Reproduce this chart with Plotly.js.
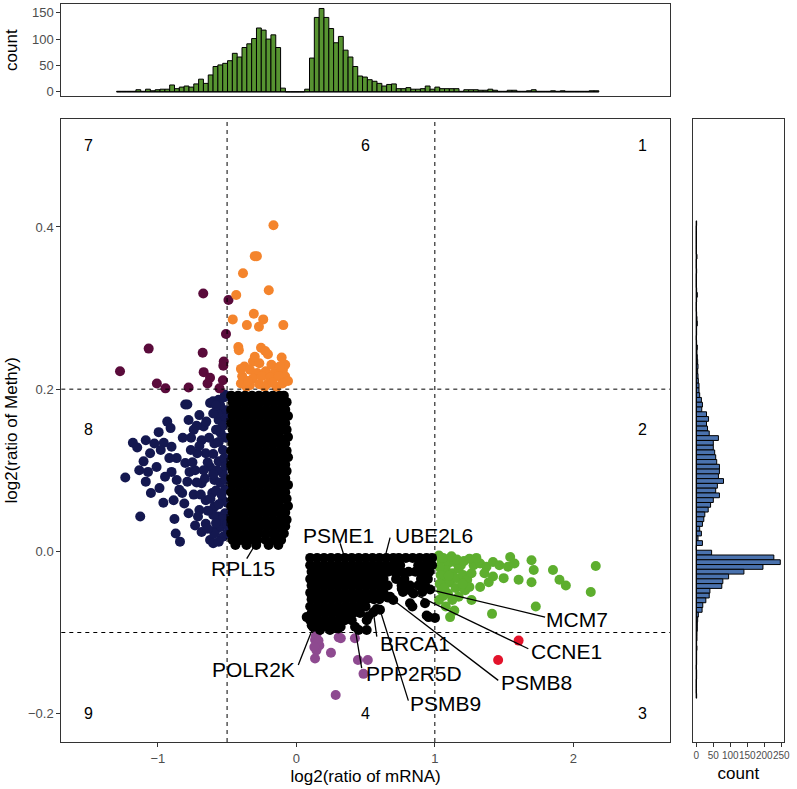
<!DOCTYPE html>
<html><head><meta charset="utf-8">
<script src="https://cdn.plot.ly/plotly-3.0.1.min.js"></script>
<style>html,body{margin:0;padding:0;background:#fff}#chart{width:797px;height:789px}</style>
</head><body><div id="chart"></div>
<script>
// ---------------- DATA ----------------
// region 7 (maroon)
const maroonX = [-0.672,-0.490,-0.508,-1.066,-0.676,-1.273,-0.669,-0.524,-0.527,-0.623,-0.641,-0.530,-1.007,-0.945,-0.778,-0.555];
const maroonY = [0.318,0.310,0.268,0.250,0.245,0.222,0.221,0.234,0.229,0.214,0.207,0.211,0.207,0.201,0.202,0.201];
// region 6 (orange)
const orangeX = [-0.165,-0.300,-0.285,-0.385,-0.199,-0.434,-0.307,-0.459,-0.239,-0.357,-0.270,-0.094,-0.419,-0.415,-0.255,-0.205,-0.225,-0.106,
  -0.375,-0.313,-0.267,-0.335,-0.282,-0.221,-0.159,-0.097,-0.081,-0.391,-0.313,-0.251,-0.190,-0.128,-0.400,-0.335,-0.267,-0.205,-0.143,-0.360,-0.100,-0.060,-0.300,-0.350,-0.230,-0.170,-0.400,-0.080,-0.180,-0.120];
const orangeY = [0.402,0.364,0.364,0.343,0.322,0.316,0.293,0.286,0.286,0.279,0.277,0.279,0.252,0.248,0.251,0.243,0.247,0.239,
  0.228,0.234,0.232,0.224,0.220,0.222,0.220,0.224,0.216,0.216,0.213,0.216,0.214,0.216,0.207,0.205,0.206,0.207,0.203,0.203,0.207,0.210,0.240,0.210,0.203,0.208,0.225,0.230,0.230,0.228];
// region 8 (navy)
const navyX = [-1.235,-1.180,-1.149,-1.127,-1.134,-1.103,-1.071,-1.087,-1.050,-0.988,-0.994,-0.932,-0.908,-0.957,-0.901,-0.864,-0.901,-0.864,-0.845,-0.886,
  -0.802,-0.778,-0.741,-0.802,-0.771,-0.787,-0.741,-0.700,-0.710,-0.654,-0.871,-0.840,-0.684,-0.654,-0.623,-0.592,-0.607,-0.592,-0.561,-0.576,
  -0.530,-0.623,-0.515,-0.561,-0.546,-0.530,-0.716,-0.762,-0.684,-0.654,-0.731,-0.700,-0.623,-0.669,-0.592,-0.561,-0.530,-0.515,-0.530,-0.515,
  -0.546,-0.499,-0.592,-0.684,-0.731,-0.778,-0.809,-0.824,-0.948,-1.009,-0.917,-0.979,-1.056,-1.087,-1.025,-0.787,-0.601,-0.561,-0.515,
  -0.520,-0.550,-0.510,-0.570,-0.530,-0.580,-0.510,-0.560,-0.600,-0.520,-0.570,-0.510,-0.600,-0.550,-0.510,-0.580,-0.540,-0.620,-0.500,-0.560,
  -0.600,-0.530,-0.500,-0.580,-0.640,-0.660,-0.640,-0.670,-0.700,-0.630,-0.650,-0.600,-0.580,-0.690,-0.720,-0.750,-0.760,-0.720,-0.640,-0.600,-0.560,-0.820,-0.880,-0.960];
const navyY = [0.091,0.134,0.128,0.043,0.100,0.111,0.098,0.086,0.072,0.078,0.147,0.160,0.152,0.134,0.129,0.115,0.098,0.088,0.076,0.063,
  0.181,0.162,0.150,0.109,0.098,0.086,0.070,0.051,0.043,0.034,0.022,0.012,0.137,0.121,0.104,0.088,0.072,0.055,0.043,0.028,
  0.018,0.014,0.174,0.162,0.146,0.125,0.121,0.125,0.084,0.063,0.100,0.168,0.183,0.154,0.133,0.111,0.096,0.076,0.063,0.047,
  0.030,0.022,0.022,0.024,0.032,0.047,0.059,0.072,0.092,0.104,0.115,0.125,0.121,0.137,0.133,0.181,0.185,0.187,0.193,
  0.190,0.180,0.165,0.170,0.155,0.150,0.140,0.135,0.120,0.115,0.100,0.105,0.095,0.085,0.088,0.075,0.070,0.065,0.060,0.058,
  0.045,0.040,0.033,0.035,0.050,0.090,0.110,0.100,0.130,0.140,0.160,0.170,0.180,0.070,0.085,0.110,0.140,0.155,0.028,0.010,0.012,0.140,0.040,0.060];
// region 2 (green)
const greenX = [1.048,1.095,1.141,1.188,1.079,1.126,1.172,1.064,1.110,1.157,1.203,1.234,1.265,1.280,1.327,1.373,1.420,1.466,1.544,1.528,1.575,1.698,1.714,1.698,1.853,1.900,1.946,2.126,2.162,1.729,
  1.413,1.265,1.219,1.172,1.126,1.079,1.141,1.110,1.048,1.095,1.327,1.389,1.420,1.497,1.605,1.358,1.250,1.188,1.033,1.042,1.030,1.060,1.120,1.160,1.210,1.250,1.300,1.035,1.070,1.100,1.150,1.200,1.030,1.060];
const greenY = [-0.011,-0.015,-0.013,-0.017,-0.023,-0.027,-0.021,-0.035,-0.038,-0.033,-0.029,-0.035,-0.027,-0.017,-0.015,-0.019,-0.013,-0.017,-0.007,-0.019,-0.015,-0.011,-0.023,-0.038,-0.023,-0.035,-0.042,-0.050,-0.018,-0.068,
  -0.077,-0.060,-0.048,-0.056,-0.060,-0.068,-0.073,-0.081,-0.048,-0.052,-0.044,-0.038,-0.031,-0.033,-0.035,-0.027,-0.044,-0.044,-0.019,-0.029,-0.005,-0.008,-0.006,-0.010,-0.012,-0.009,-0.008,-0.040,-0.045,-0.030,-0.045,-0.040,-0.060,-0.055];
// region 3 (red)
const redX = [1.605,1.457];
const redY = [-0.110,-0.134];
// region 4 (purple)
const purpleX = [0.151,0.135,0.166,0.145,0.135,0.250,0.306,0.321,0.423,0.445,0.516,0.485,0.284,0.140,0.160,0.130];
const purpleY = [-0.100,-0.109,-0.116,-0.122,-0.132,-0.125,-0.106,-0.107,-0.107,-0.134,-0.134,-0.151,-0.177,-0.105,-0.110,-0.118];
// region 5 (black), rows: [y, x1, x2, ...]
const blackRows = [
  [0.192,-0.47,-0.42,-0.37,-0.32,-0.27,-0.22,-0.17,-0.12,-0.09],
  [0.184,-0.46,-0.41,-0.36,-0.31,-0.26,-0.21,-0.16,-0.11,-0.07],
  [0.175,-0.47,-0.42,-0.37,-0.32,-0.27,-0.22,-0.17,-0.12,-0.08],
  [0.167,-0.46,-0.41,-0.36,-0.31,-0.26,-0.21,-0.16,-0.11,-0.06],
  [0.158,-0.47,-0.42,-0.37,-0.32,-0.27,-0.22,-0.17,-0.12,-0.08],
  [0.150,-0.46,-0.41,-0.36,-0.31,-0.26,-0.21,-0.16,-0.11,-0.07],
  [0.141,-0.47,-0.42,-0.37,-0.32,-0.27,-0.22,-0.17,-0.12,-0.06],
  [0.133,-0.46,-0.41,-0.36,-0.31,-0.26,-0.21,-0.16,-0.11,-0.08],
  [0.124,-0.47,-0.42,-0.37,-0.32,-0.27,-0.22,-0.17,-0.12,-0.07],
  [0.116,-0.46,-0.41,-0.36,-0.31,-0.26,-0.21,-0.16,-0.11,-0.06],
  [0.107,-0.47,-0.42,-0.37,-0.32,-0.27,-0.22,-0.17,-0.12,-0.08],
  [0.099,-0.46,-0.41,-0.36,-0.31,-0.26,-0.21,-0.16,-0.11,-0.07],
  [0.090,-0.47,-0.42,-0.37,-0.32,-0.27,-0.22,-0.17,-0.12,-0.08],
  [0.082,-0.46,-0.41,-0.36,-0.31,-0.26,-0.21,-0.16,-0.11,-0.06],
  [0.073,-0.47,-0.42,-0.37,-0.32,-0.27,-0.22,-0.17,-0.12,-0.08],
  [0.065,-0.46,-0.41,-0.36,-0.31,-0.26,-0.21,-0.16,-0.11,-0.07],
  [0.056,-0.47,-0.42,-0.37,-0.32,-0.27,-0.22,-0.17,-0.12,-0.06],
  [0.048,-0.46,-0.41,-0.36,-0.31,-0.26,-0.21,-0.16,-0.11,-0.08],
  [0.039,-0.47,-0.42,-0.37,-0.32,-0.27,-0.22,-0.17,-0.12,-0.07],
  [0.031,-0.46,-0.41,-0.36,-0.31,-0.26,-0.21,-0.16,-0.11,-0.08],
  [0.022,-0.47,-0.42,-0.37,-0.32,-0.27,-0.22,-0.17,-0.12,-0.09],
  [0.014,-0.46,-0.40,-0.34,-0.28,-0.22,-0.16,-0.11],
  [0.008,-0.44,-0.36,-0.29,-0.20,-0.13],
  [-0.008,0.10,0.15,0.20,0.25,0.30,0.35,0.40,0.45,0.50,0.55,0.60,0.65,0.70,0.74,0.79,0.84,0.89,0.94,0.98],
  [-0.017,0.10,0.15,0.20,0.25,0.30,0.35,0.40,0.45,0.50,0.55,0.60,0.65,0.70,0.75,0.88,0.93,0.98],
  [-0.025,0.11,0.16,0.21,0.26,0.31,0.36,0.41,0.46,0.51,0.56,0.61,0.66,0.71,0.76,0.81,0.86,0.91,0.96],
  [-0.034,0.10,0.15,0.20,0.25,0.30,0.35,0.40,0.45,0.50,0.55,0.60,0.63,0.72,0.78,0.90,0.95],
  [-0.042,0.11,0.16,0.21,0.26,0.31,0.36,0.41,0.46,0.51,0.56,0.61,0.66,0.76,0.82,0.88,0.93],
  [-0.051,0.10,0.15,0.20,0.25,0.30,0.35,0.40,0.45,0.50,0.55,0.60,0.63],
  [-0.059,0.11,0.16,0.21,0.26,0.31,0.36,0.41,0.46,0.51,0.56,0.60],
  [-0.068,0.10,0.15,0.20,0.25,0.30,0.35,0.40,0.45,0.50],
  [-0.076,0.11,0.16,0.21,0.26,0.31,0.36,0.41,0.46],
  [-0.085,0.10,0.15,0.20,0.25,0.30,0.35,0.40],
  [-0.093,0.12,0.17,0.22,0.27,0.32]
];
const blackExtraX = [0.761,0.821,0.929,0.941,1.001,0.652,0.664,0.821,0.508,0.424,0.508,0.580,0.677,0.770,0.838,0.955,0.909,0.520,0.450,0.075,0.111,0.171,0.243,0.303,0.123,0.556,0.604,0.700,0.845,0.966];
const blackExtraY = [-0.046,-0.048,-0.064,-0.079,-0.082,-0.056,-0.057,-0.064,-0.085,-0.093,-0.097,-0.071,-0.056,-0.050,-0.068,-0.081,-0.050,-0.080,-0.097,-0.081,-0.091,-0.097,-0.097,-0.095,-0.093,-0.075,-0.072,-0.060,-0.052,-0.047];

// labelled genes
const geneNames = ['PSME1','UBE2L6','RPL15','MCM7','CCNE1','PSMB8','PSMB9','PPP2R5D','BRCA1','POLR2K'];
const genePtX = [0.344,0.645,-0.305,0.966,0.845,0.700,0.604,0.424,0.556,0.123];
const genePtY = [-0.005,-0.004,0.006,-0.047,-0.052,-0.060,-0.072,-0.095,-0.0745,-0.093];

// quadrant thresholds and region numbers
const xCuts = [-0.5, 1];
const yCuts = [0.2, -0.1];
const regionNames = ['7','6','1','8','2','9','4','3'];
const regionX = [-1.5,0.5,2.5,-1.5,2.5,-1.5,0.5,2.5];
const regionY = [0.5,0.5,0.5,0.15,0.15,-0.2,-0.2,-0.2];

// marginal histogram of mRNA (100 bins)
const xHistStart = -1.2975, xHistWidth = 0.034816;
const xHistCounts = [1,1,1,1,4,1,5,2,4,5,5,13,6,
  9,11,9,15,24,16,32,48,51,54,59,73,66,84,91,101,121,117,100,108,84,7,
  0,0,0,0,5,
  64,141,158,141,120,93,105,79,66,48,30,28,23,20,16,11,14,15,6,6,8,5,5,6,11,5,9,6,6,6,6,1,4,4,4,
  3,3,5,3,1,1,3,3,1,1,2,4,1,1,1,2,1,2,1,1,1,1,1,2,2];
// marginal histogram of Methy (100 bins, listed from top bin down)
const yHistTop = 0.4075, yHistWidth = 0.005885;
const yHistCounts = [1,0,0,0,0,0,0,2,0,0,1,0,0,0,1,3,1,0,0,1,2,3,1,1,0,1,3,2,3,4,
  5,4,5,6,8,8,10,15,18,16,30,36,30,33,38,65,50,50,54,57,
  60,68,68,65,80,62,57,68,50,42,35,25,22,18,10,15,5,18,0,45,
  228,247,196,140,95,78,75,40,38,28,19,17,6,4,3,3,2,2,1,2,
  1,1,1,0,1,1,0,0,0,1];

// ---------------- BUILD ----------------
const bx = [], by = [];
blackRows.forEach(r => { for (let i = 1; i < r.length; i++) { bx.push(r[i]); by.push(r[0]); } });
blackExtraX.forEach((v,i) => { bx.push(v); by.push(blackExtraY[i]); });

const xHistCenters = xHistCounts.map((_, i) => xHistStart + (i + 0.5) * xHistWidth);
const yHistCenters = yHistCounts.map((_, i) => yHistTop - (i + 0.5) * yHistWidth);

const mk = (x, y, color) => ({type:'scatter', mode:'markers', x, y, xaxis:'x', yaxis:'y',
  marker:{size:10, color, line:{width:0}}, hoverinfo:'skip'});

const traces = [
  mk(navyX, navyY, '#141850'),
  mk(maroonX, maroonY, '#5A0B3B'),
  mk(orangeX, orangeY, '#F4842C'),
  mk(greenX, greenY, '#5DAE2E'),
  mk(redX, redY, '#E3132B'),
  mk(purpleX, purpleY, '#8E4A90'),
  mk(bx, by, '#000000'),
  {type:'bar', x:xHistCenters, y:xHistCounts, width:xHistWidth, xaxis:'x2', yaxis:'y2',
   marker:{color:'#579431', line:{color:'#000', width:1}}, hoverinfo:'skip'},
  {type:'bar', orientation:'h', y:yHistCenters, x:yHistCounts, width:yHistWidth, xaxis:'x3', yaxis:'y3',
   marker:{color:'#4A72AE', line:{color:'#000', width:1}}, hoverinfo:'skip'}
];

// label layout (text centres and leader-line starts)
const labelPos = [[0.305,0.020],[0.996,0.020],[-0.383,-0.021],[2.030,-0.084],[1.952,-0.124],[1.736,-0.162],[1.074,-0.187],[0.851,-0.150],[0.857,-0.113],[-0.310,-0.146]];
const lineStart = [[0.316,0.010],[0.677,0.017],[-0.358,-0.009],[1.796,-0.081],[1.675,-0.120],[1.458,-0.159],[0.809,-0.184],[0.472,-0.144],[0.581,-0.105],[0.014,-0.140]];

const W = 797, H = 789;
const mainX = [61.3/W, 670/W], mainY = [1-742/H, 1-118.5/H];
const topY = [1-96/H, 1-4.3/H];
const rightX = [692.7/W, 784/W];
const xr = [-1.697, 2.698], yr = [-0.235, 0.5337];

const axBase = {showgrid:false, zeroline:false, showline:true, mirror:true, linecolor:'#333333', linewidth:1,
  ticks:'outside', ticklen:4, tickwidth:1, tickcolor:'#333333', automargin:false, tickangle:0,
  tickfont:{family:'Liberation Sans, Arial, sans-serif', size:13, color:'#4D4D4D'}};
const titleFont = {family:'Liberation Sans, Arial, sans-serif', size:17, color:'#000'};

const shapes = [];
xCuts.forEach(v => shapes.push({type:'line', xref:'x', yref:'y domain', x0:v, x1:v, y0:0, y1:1, line:{color:'#000', width:1, dash:'4px,4px'}}));
yCuts.forEach(v => shapes.push({type:'line', xref:'x domain', yref:'y', x0:0, x1:1, y0:v, y1:v, line:{color:'#000', width:1, dash:'4px,4px'}}));
geneNames.forEach((g, i) => shapes.push({type:'line', xref:'x', yref:'y', x0:lineStart[i][0], y0:lineStart[i][1], x1:genePtX[i], y1:genePtY[i], line:{color:'#000', width:1.3}}));
// baseline of the histograms (outline of empty bins)
shapes.push({type:'line', xref:'x2', yref:'y2', x0:xHistStart, x1:xHistStart + xHistCounts.length*xHistWidth, y0:0, y1:0, line:{color:'#000', width:1}});
shapes.push({type:'line', xref:'x3', yref:'y3', x0:0, x1:0, y0:yHistTop - yHistCounts.length*yHistWidth, y1:yHistTop, line:{color:'#000', width:1}});

const annotations = [];
regionNames.forEach((t, i) => annotations.push({x:regionX[i], y:regionY[i], xref:'x', yref:'y', text:t, showarrow:false,
  font:{family:'Liberation Sans, Arial, sans-serif', size:16, color:'#000'}}));
geneNames.forEach((g, i) => annotations.push({x:labelPos[i][0], y:labelPos[i][1], xref:'x', yref:'y', text:g, showarrow:false,
  font:{family:'Liberation Sans, Arial, sans-serif', size:21, color:'#000'}}));

const layout = {
  width:W, height:H, margin:{l:0, r:0, t:0, b:0}, showlegend:false,
  paper_bgcolor:'#fff', plot_bgcolor:'#fff', bargap:0,
  font:{family:'Liberation Sans, Arial, sans-serif'},
  xaxis: Object.assign({}, axBase, {domain:mainX, anchor:'y', range:xr, tickvals:[-1,0,1,2], ticktext:['\u22121','0','1','2'],
    title:{text:'log2(ratio of mRNA)', font:titleFont, standoff:5}}),
  yaxis: Object.assign({}, axBase, {domain:mainY, anchor:'x', range:yr, tickvals:[-0.2,0,0.2,0.4], ticktext:['\u22120.2','0.0','0.2','0.4'],
    title:{text:'log2(ratio of Methy)', font:titleFont, standoff:6}}),
  xaxis2: Object.assign({}, axBase, {domain:mainX, anchor:'y2', range:xr, showticklabels:false, ticks:''}),
  yaxis2: Object.assign({}, axBase, {domain:topY, anchor:'x2', range:[-7.9, 165.9], tickvals:[0,50,100,150],
    title:{text:'count', font:titleFont, standoff:10}}),
  xaxis3: Object.assign({}, axBase, {domain:rightX, anchor:'y3', range:[-10.6, 257.9], tickvals:[0,50,100,150,200,250],
    tickfont:{family:'Liberation Sans, Arial, sans-serif', size:10, color:'#4D4D4D'},
    title:{text:'count', font:titleFont, standoff:7}}),
  yaxis3: Object.assign({}, axBase, {domain:mainY, anchor:'x3', range:yr, showticklabels:false, ticks:''}),
  shapes, annotations
};

Plotly.newPlot('chart', traces, layout, {staticPlot:true, displayModeBar:false});
</script></body></html>
